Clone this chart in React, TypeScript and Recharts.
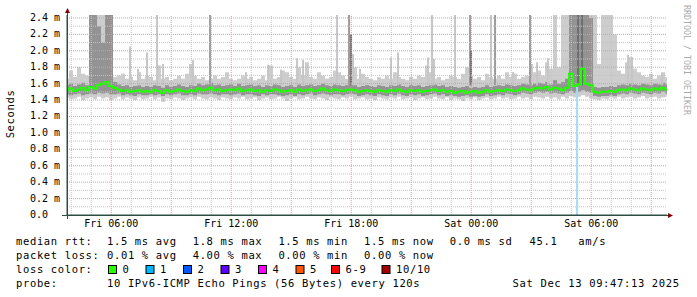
import { ComposedChart, Area, Line, XAxis, YAxis, ReferenceLine } from "recharts";

// time axis: hours since Fri 00:00, one sample every 12 minutes
const T0 = 3 + 47 / 60 + 13 / 3600;
const STEP = 0.2;
const T1 = T0 + 30;

const median = [
  1.52, 1.54, 1.51, 1.53, 1.55, 1.52, 1.56, 1.54, 1.58, 1.6,
  1.62, 1.57, 1.55, 1.53, 1.51, 1.52, 1.5, 1.51, 1.52, 1.5,
  1.51, 1.5, 1.52, 1.51, 1.49, 1.52, 1.5, 1.51, 1.53, 1.51,
  1.5, 1.52, 1.51, 1.54, 1.52, 1.53, 1.55, 1.52, 1.53, 1.51,
  1.52, 1.53, 1.52, 1.54, 1.51, 1.52, 1.53, 1.51, 1.52, 1.5,
  1.52, 1.51, 1.53, 1.52, 1.5, 1.51, 1.52, 1.5, 1.53, 1.51,
  1.52, 1.53, 1.51, 1.52, 1.54, 1.52, 1.51, 1.53, 1.52, 1.51,
  1.52, 1.53, 1.52, 1.5, 1.51, 1.52, 1.51, 1.5, 1.52, 1.51,
  1.5, 1.52, 1.51, 1.53, 1.51, 1.5, 1.52, 1.51, 1.52, 1.5,
  1.51, 1.52, 1.53, 1.51, 1.52, 1.5, 1.51, 1.49, 1.5, 1.51,
  1.49, 1.5, 1.51, 1.49, 1.5, 1.52, 1.5, 1.51, 1.52, 1.51,
  1.53, 1.52, 1.51, 1.52, 1.54, 1.53, 1.52, 1.54, 1.55, 1.54,
  1.56, 1.53, 1.55, 1.54, 1.52, 1.55, 1.72, 1.57, 1.59, 1.78,
  1.6, 1.58, 1.5, 1.49, 1.5, 1.5, 1.51, 1.5, 1.52, 1.53,
  1.52, 1.54, 1.53, 1.52, 1.54, 1.53, 1.52, 1.54, 1.53, 1.55, 1.53,
];

// slowest ping of each sample (outer smoke, top)
const maxPing = [
  1.66, 1.76, 1.68, 1.8, 1.72, 1.7, 2.6, 2.6, 2.6, 2.6,
  2.6, 2.6, 1.68, 1.7, 1.72, 1.66, 1.68, 1.64, 1.74, 1.66,
  1.7, 1.68, 1.64, 1.82, 1.66, 1.68, 1.64, 1.66, 1.7, 1.66,
  1.72, 1.84, 1.7, 1.66, 1.68, 1.64, 1.66, 1.7, 1.66, 1.68,
  1.74, 1.66, 1.64, 1.66, 1.7, 1.66, 1.68, 1.64, 1.66, 1.7,
  1.64, 1.82, 1.66, 1.68, 1.76, 1.74, 1.68, 1.66, 1.8, 1.7,
  1.86, 1.68, 1.66, 1.74, 1.7, 1.66, 1.68, 1.76, 1.74, 1.7,
  1.66, 1.68, 1.8, 1.66, 1.72, 1.68, 1.66, 1.64, 1.68, 1.66,
  1.7, 1.66, 1.74, 1.68, 1.66, 1.64, 1.68, 1.66, 1.7, 1.68,
  1.82, 1.74, 1.66, 1.68, 1.64, 1.66, 1.7, 1.68, 1.66, 1.72,
  1.8, 1.7, 1.66, 1.68, 1.64, 1.72, 1.68, 1.66, 1.7, 1.66,
  1.74, 1.68, 1.72, 1.66, 1.68, 1.7, 1.84, 1.74, 1.76, 1.7,
  1.86, 1.78, 2.6, 1.8, 2.6, 2.6, 2.6, 2.6, 2.6, 2.6,
  2.6, 2.6, 2.6, 1.84, 2.6, 2.6, 2.6, 2.2, 1.76, 1.72,
  1.86, 1.92, 1.78, 1.74, 1.7, 1.68, 1.72, 1.66, 1.7, 1.74, 1.68,
];

// fastest ping of each sample (outer smoke, bottom)
const minPing = [
  1.43, 1.41, 1.42, 1.44, 1.4, 1.42, 1.43, 1.41, 1.44, 1.42,
  1.43, 1.4, 1.42, 1.44, 1.41, 1.43, 1.42, 1.4, 1.43, 1.41,
  1.42, 1.44, 1.41, 1.43, 1.38, 1.42, 1.41, 1.43, 1.42, 1.4,
  1.42, 1.43, 1.41, 1.44, 1.42, 1.41, 1.43, 1.42, 1.4, 1.43,
  1.42, 1.41, 1.43, 1.42, 1.44, 1.41, 1.42, 1.43, 1.4, 1.42,
  1.43, 1.41, 1.42, 1.44, 1.42, 1.39, 1.42, 1.43, 1.41, 1.42,
  1.44, 1.42, 1.41, 1.43, 1.42, 1.4, 1.43, 1.42, 1.41, 1.43,
  1.42, 1.44, 1.41, 1.42, 1.43, 1.41, 1.42, 1.4, 1.43, 1.42,
  1.41, 1.43, 1.42, 1.44, 1.41, 1.42, 1.43, 1.4, 1.42, 1.43,
  1.41, 1.42, 1.44, 1.42, 1.41, 1.43, 1.4, 1.42, 1.41, 1.39,
  1.42, 1.41, 1.43, 1.4, 1.42, 1.43, 1.41, 1.42, 1.44, 1.42,
  1.43, 1.41, 1.42, 1.44, 1.42, 1.43, 1.41, 1.44, 1.43, 1.42,
  1.44, 1.42, 1.43, 1.41, 1.44, 1.42, 1.45, 1.43, 1.44, 1.46,
  1.44, 1.42, 1.41, 1.4, 1.42, 1.41, 1.43, 1.42, 1.44, 1.42,
  1.43, 1.44, 1.42, 1.43, 1.45, 1.42, 1.43, 1.44, 1.42, 1.43, 1.44,
];

// inner smoke (2nd fastest .. 2nd slowest)
const innerLow = [
  1.47, 1.46, 1.47, 1.48, 1.46, 1.47, 1.48, 1.47, 1.49, 1.48,
  1.49, 1.47, 1.47, 1.48, 1.46, 1.47, 1.46, 1.45, 1.47, 1.46,
  1.46, 1.47, 1.46, 1.47, 1.45, 1.47, 1.46, 1.47, 1.48, 1.46,
  1.46, 1.47, 1.46, 1.48, 1.47, 1.47, 1.48, 1.47, 1.46, 1.47,
  1.47, 1.46, 1.47, 1.48, 1.46, 1.47, 1.47, 1.46, 1.45, 1.47,
  1.46, 1.47, 1.47, 1.46, 1.45, 1.46, 1.47, 1.45, 1.47, 1.46,
  1.47, 1.48, 1.46, 1.47, 1.48, 1.47, 1.46, 1.47, 1.47, 1.46,
  1.47, 1.48, 1.47, 1.45, 1.46, 1.47, 1.46, 1.45, 1.47, 1.46,
  1.45, 1.47, 1.46, 1.48, 1.46, 1.45, 1.47, 1.46, 1.47, 1.45,
  1.46, 1.47, 1.48, 1.46, 1.47, 1.45, 1.46, 1.45, 1.44, 1.45,
  1.46, 1.44, 1.45, 1.44, 1.45, 1.47, 1.45, 1.46, 1.47, 1.46,
  1.48, 1.47, 1.46, 1.47, 1.49, 1.48, 1.47, 1.49, 1.5, 1.49,
  1.5, 1.48, 1.49, 1.48, 1.47, 1.49, 1.51, 1.49, 1.5, 1.52,
  1.5, 1.49, 1.45, 1.44, 1.45, 1.45, 1.46, 1.45, 1.47, 1.48,
  1.47, 1.49, 1.48, 1.47, 1.49, 1.48, 1.47, 1.49, 1.48, 1.5, 1.48,
];

const innerHigh = [
  1.58, 1.6, 1.57, 1.59, 1.61, 1.58, 2.6, 2.6, 2.3, 2.1,
  2.6, 2.6, 1.62, 1.59, 1.57, 1.58, 1.56, 1.57, 1.58, 1.56,
  1.57, 1.56, 1.58, 1.57, 1.55, 1.58, 1.56, 1.57, 1.59, 1.57,
  1.56, 1.58, 1.57, 1.6, 1.58, 1.59, 1.61, 1.58, 1.59, 1.57,
  1.58, 1.59, 1.57, 1.6, 1.57, 1.58, 1.59, 1.57, 1.58, 1.56,
  1.58, 1.57, 1.59, 1.58, 1.56, 1.57, 1.58, 1.56, 1.59, 1.57,
  1.58, 1.59, 1.57, 1.58, 1.6, 1.58, 1.57, 1.59, 1.58, 1.57,
  1.58, 1.59, 1.58, 1.56, 1.57, 1.58, 1.57, 1.56, 1.58, 1.57,
  1.56, 1.58, 1.57, 1.59, 1.57, 1.56, 1.58, 1.57, 1.58, 1.56,
  1.57, 1.58, 1.59, 1.57, 1.58, 1.56, 1.57, 1.56, 1.55, 1.56,
  1.57, 1.55, 1.56, 1.55, 1.56, 1.58, 1.56, 1.57, 1.58, 1.57,
  1.59, 1.58, 1.57, 1.58, 1.6, 1.59, 1.58, 1.6, 1.61, 1.6,
  1.62, 1.59, 1.64, 1.6, 1.62, 1.66, 2.6, 2.6, 2.6, 2.6,
  2.6, 2.4, 1.56, 1.55, 1.56, 1.56, 1.57, 1.56, 1.58, 1.59,
  1.58, 1.6, 1.59, 1.58, 1.6, 1.59, 1.58, 1.6, 1.59, 1.61, 1.59,
];

// single slow pings (hour of day, top in ms, shade)
const spikeTimes = [
  6.94, 7.34, 7.79, 8.29, 8.59, 10.09, 10.94, 12.74, 13.84, 14.49,
  15.29, 15.59, 17.29, 17.89, 17.99, 18.09, 18.44, 19.99, 20.34, 21.84,
  22.04, 22.14, 23.19, 23.94, 23.99, 24.99, 25.19, 26.09, 26.94, 27.29,
  27.84, 29.34, 29.54, 31.84, 32.04, 33.54,
];
const spikeTops = [
  2.05, 1.78, 1.98, 2.6, 1.84, 1.89, 2.6, 1.74, 1.83, 1.77,
  1.91, 1.89, 2.6, 2.6, 2.2, 1.96, 1.78, 1.92, 1.98, 1.92,
  2.6, 1.9, 2.6, 2.6, 2.0, 2.6, 2.6, 1.74, 2.6, 1.86,
  1.91, 2.6, 2.6, 1.95, 1.92, 1.72,
];
const spikeShades = [
  "light", "light", "light", "light", "light", "light", "mid", "light", "light", "light",
  "light", "light", "light", "mid", "dark", "light", "light", "light", "light", "light",
  "light", "light", "light", "mid", "dark", "light", "mid", "light", "mid", "light",
  "light", "dark", "dark", "light", "light", "light",
];
const SPIKE_BASE = 1.58;

// packet loss: 1 of 10 lost
const lossTimes = [29.29];
const lossMedians = [1.57];

const yTicks = [0, 0.2, 0.4, 0.6, 0.8, 1.0, 1.2, 1.4, 1.6, 1.8, 2.0, 2.2, 2.4];
const yLabels = ["0.0", "0.2 m", "0.4 m", "0.6 m", "0.8 m", "1.0 m", "1.2 m", "1.4 m", "1.6 m", "1.8 m", "2.0 m", "2.2 m", "2.4 m"];
const xTicks = [6, 12, 18, 24, 30];
const xLabels = ["Fri 06:00", "Fri 12:00", "Fri 18:00", "Sat 00:00", "Sat 06:00"];
const gridHours = [4, 5, 6, 7, 8, 9, 10, 11, 12, 13, 14, 15, 16, 17, 18, 19, 20, 21, 22, 23, 24, 25, 26, 27, 28, 29, 30, 31, 32, 33];
const gridValues = [0.1, 0.2, 0.3, 0.4, 0.5, 0.6, 0.7, 0.8, 0.9, 1.0, 1.1, 1.2, 1.3, 1.4, 1.5, 1.6, 1.7, 1.8, 1.9, 2.0, 2.1, 2.2, 2.3, 2.4];

const rttStats = ["1.5 ms avg", "1.8 ms max", "1.5 ms min", "1.5 ms now", "0.0 ms sd"];
const lossStats = ["0.01 % avg", "4.00 % max", "0.00 % min", "0.00 % now"];
const rttPerMinute = "45.1";
const lossLegend = [
  { label: "0", color: "#26ff00" },
  { label: "1", color: "#00b8ff" },
  { label: "2", color: "#0059ff" },
  { label: "3", color: "#5e00ff" },
  { label: "4", color: "#ff00ff" },
  { label: "5", color: "#ff5500" },
  { label: "6-9", color: "#ff0000" },
  { label: "10/10", color: "#a10000" },
];
const probeText = "10 IPv6-ICMP Echo Pings (56 Bytes) every 120s";
const stampText = "Sat Dec 13 09:47:13 2025";

const rows = median.map((m, i) => ({
  t: T0 + i * STEP,
  med: m,
  outer: [minPing[i], maxPing[i]],
  inner: [innerLow[i], innerHigh[i]],
}));

const MONO = "'DejaVu Sans Mono', monospace";
const SHADES: Record<string, string> = { light: "#c6c6c6", mid: "#9a9a9a", dark: "#6e6e6e" };
const MAJOR = "#eb9696";
const MINOR = "#c4c4c4";

// legend layout
const statCols = [107, 192.7, 278.4, 364.1, 449.8];
const boxCols = [108, 145.5, 183, 220.5, 258, 295.5, 331, 381.5];
const legendFont = { fontFamily: MONO, fontSize: 10.5, letterSpacing: 0.64, whiteSpace: "pre" as const };

const labelFor = (ticks: number[], labels: string[], v: number) =>
  labels[ticks.findIndex((t) => Math.abs(t - v) < 1e-6)] ?? "";

const YTick = (props: any) => {
  const { y, payload } = props;
  return (
    <text x={30} y={y} dy={3} fontFamily={MONO} fontSize={10} fill="#000">
      {labelFor(yTicks, yLabels, payload.value)}
    </text>
  );
};

const XTick = (props: any) => {
  const { x, y, payload } = props;
  return (
    <text x={x} y={y} dy={12.3} textAnchor="middle" fontFamily={MONO} fontSize={10} fill="#000">
      {labelFor(xTicks, xLabels, payload.value)}
    </text>
  );
};

export default function App() {
  return (
    <div style={{ position: "absolute", left: 0, top: 0, width: 697, height: 297, background: "#fff" }}>
      <ComposedChart
        width={697}
        height={297}
        data={rows}
        margin={{ top: 15, right: 30, bottom: 62, left: 0 }}
      >
        <XAxis
          dataKey="t"
          type="number"
          domain={[T0, T1]}
          allowDataOverflow
          ticks={xTicks}
          interval={0}
          tick={<XTick />}
          tickLine={false}
          tickSize={0}
          tickMargin={0}
          height={20}
          axisLine={{ stroke: "#2c4d43" }}
        />
        <YAxis
          type="number"
          domain={[0, 2.436]}
          allowDataOverflow
          ticks={yTicks}
          interval={0}
          tick={<YTick />}
          tickLine={false}
          tickSize={0}
          tickMargin={0}
          width={67}
          axisLine={{ stroke: "#2c4d43" }}
        />
        <Area
          dataKey="outer"
          type="step"
          stroke="none"
          fill="#cdcdcd"
          fillOpacity={1}
          isAnimationActive={false}
        />
        <Area
          dataKey="inner"
          type="step"
          stroke="none"
          fill="#939393"
          fillOpacity={1}
          isAnimationActive={false}
        />
        {spikeTimes.map((h, i) => (
          <Line
            key={"s" + i}
            data={[
              { t: h, v: SPIKE_BASE },
              { t: h, v: spikeTops[i] },
            ]}
            dataKey="v"
            stroke={SHADES[spikeShades[i]]}
            strokeWidth={2}
            dot={false}
            activeDot={false}
            isAnimationActive={false}
          />
        ))}
        {gridHours.map((h) => (
          <ReferenceLine
            key={"gx" + h}
            x={h}
            stroke={h % 3 === 0 ? MAJOR : MINOR}
            strokeDasharray="1 1"
          />
        ))}
        {gridValues.map((v, i) => (
          <ReferenceLine
            key={"gy" + i}
            y={v}
            stroke={i % 2 === 1 ? MAJOR : MINOR}
            strokeDasharray="1 1"
          />
        ))}
        {lossTimes.map((h, i) => (
          <Line
            key={"l" + i}
            data={[
              { t: h, v: 0 },
              { t: h, v: lossMedians[i] },
            ]}
            dataKey="v"
            stroke="#a3dcf6"
            strokeWidth={2}
            dot={false}
            activeDot={false}
            isAnimationActive={false}
          />
        ))}
        <Line
          dataKey="med"
          type="step"
          stroke="#20ff00"
          strokeWidth={2}
          dot={false}
          activeDot={false}
          isAnimationActive={false}
        />
      </ComposedChart>

      <svg
        width={697}
        height={297}
        style={{ position: "absolute", left: 0, top: 0, pointerEvents: "none" }}
      >
        {/* axis overhang + arrows */}
        <line x1={62} y1={215.5} x2={668} y2={215.5} stroke="#2c4d43" />
        <line x1={67.5} y1={219} x2={67.5} y2={13} stroke="#2c4d43" />
        <polygon points="65,13 70,13 67.5,8" fill="#7f0000" />
        <polygon points="668,213 668,218 673,215.5" fill="#7f0000" />

        <text
          transform="translate(14,114) rotate(-90)"
          textAnchor="middle"
          fontFamily={MONO}
          fontSize={10.5}
          letterSpacing={0.64}
          fill="#000"
        >
          Seconds
        </text>
        <text
          transform="translate(684,5) rotate(90)"
          fontFamily={MONO}
          fontSize={8.3}
          fill="#aaaaaa"
        >
          RRDTOOL / TOBI OETIKER
        </text>

        <g style={legendFont} fill="#000">
          <text x={16} y={245}>median rtt:</text>
          {rttStats.map((s, i) => (
            <text key={"r" + i} x={statCols[i]} y={245}>{s}</text>
          ))}
          <text x={529.5} y={245}>{rttPerMinute}</text>
          <text x={578.3} y={245}>am/s</text>

          <text x={16} y={258.9}>packet loss:</text>
          {lossStats.map((s, i) => (
            <text key={"p" + i} x={statCols[i]} y={258.9}>{s}</text>
          ))}

          <text x={16} y={272.7}>loss color:</text>
          {lossLegend.map((l, i) => (
            <g key={"c" + i}>
              <rect x={boxCols[i] + 0.5} y={265.5} width={8} height={8} fill={l.color} stroke="#000" />
              <text x={boxCols[i] + 14.5} y={272.7}>{l.label}</text>
            </g>
          ))}

          <text x={16} y={286.6}>probe:</text>
          <text x={107} y={286.6}>{probeText}</text>
          <text x={512.6} y={286.6}>{stampText}</text>
        </g>
      </svg>
    </div>
  );
}
